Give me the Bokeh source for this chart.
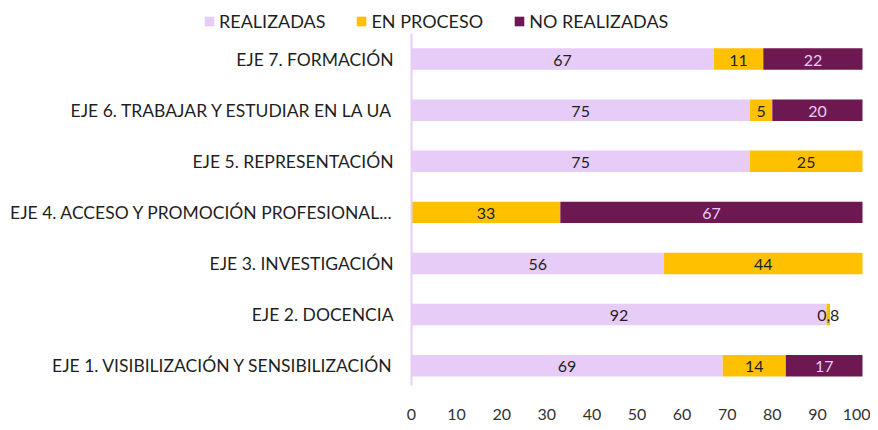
from bokeh.plotting import figure
from bokeh.models import ColumnDataSource, Legend, LegendItem, FixedTicker, Range1d
from bokeh.embed import file_html
from bokeh.resources import INLINE
from bokeh.core.properties import value

# ---- data ----
categories = [
    "EJE 1. VISIBILIZACIÓN Y SENSIBILIZACIÓN",
    "EJE 2. DOCENCIA",
    "EJE 3. INVESTIGACIÓN",
    "EJE 4. ACCESO Y PROMOCIÓN PROFESIONAL...",
    "EJE 5. REPRESENTACIÓN",
    "EJE 6. TRABAJAR Y ESTUDIAR EN LA UA",
    "EJE 7. FORMACIÓN",
]
realizadas = [69, 92, 56, 0, 75, 75, 67]
en_proceso = [14, 0.8, 44, 33, 25, 5, 11]
no_realizadas = [17, 0, 0, 67, 0, 20, 22]
series_names = ["REALIZADAS", "EN PROCESO", "NO REALIZADAS"]
x_ticks = [0, 10, 20, 30, 40, 50, 60, 70, 80, 90, 100]

# ---- style ----
colors = ["#E8CCF8", "#FFC000", "#6D1850"]
label_colors = ["#1f1f1f", "#1f1f1f", "#E8CCF8"]
FONT = "Lato"

n = len(categories)
ypos = list(range(n))

p = figure(
    x_range=Range1d(-91.13, 101.77), y_range=Range1d(-0.388, 7.146),
    width=870, height=422,
    output_backend="svg", toolbar_location=None,
    min_border_left=0, min_border_right=0,
    min_border_top=0, min_border_bottom=34,
)

series = [realizadas, en_proceso, no_realizadas]
left = [0.0] * n
renderers = []
for name, vals, col, lcol in zip(series_names, series, colors, label_colors):
    right = [l + v for l, v in zip(left, vals)]
    src = ColumnDataSource(dict(y=ypos, left=left, right=right, v=vals))
    r = p.hbar(y="y", left="left", right="right", height=0.42, source=src,
               fill_color=col, line_color=None)
    renderers.append((name, r))
    lx, ly, lt = [], [], []
    for yy, l, v in zip(ypos, left, vals):
        if v > 0:
            lx.append(l + v / 2.0)
            ly.append(yy)
            lt.append(("%g" % v).replace(".", ","))
    lsrc = ColumnDataSource(dict(x=lx, y=ly, t=lt))
    p.text(x="x", y="y", text="t", source=lsrc, text_align="center",
           text_baseline="middle", text_font=value(FONT),
           text_font_size="16px", text_color=lcol, y_offset=1)
    left = right

# category axis line and labels
p.segment(x0=[0], x1=[0], y0=[-0.69], y1=[n - 0.5],
          line_color="#E8CCF8", line_width=2)
csrc = ColumnDataSource(dict(x=[0] * n, y=ypos, t=categories))
p.text(x="x", y="y", text="t", source=csrc, text_align="right",
       text_baseline="middle", x_offset=-18, text_font=value(FONT),
       text_font_size="17.5px", text_color="#1f1f1f")

# axes
p.xaxis.ticker = FixedTicker(ticks=x_ticks)
p.xaxis.axis_line_color = None
p.xaxis.major_tick_line_color = None
p.xaxis.minor_tick_line_color = None
p.xaxis.major_label_text_font = FONT
p.xaxis.major_label_text_font_size = "16px"
p.xaxis.major_label_text_color = "#333333"
p.xaxis.major_label_standoff = 17
p.yaxis.visible = False

p.xgrid.grid_line_color = None
p.ygrid.grid_line_color = None
p.outline_line_color = None

legend = Legend(
    items=[LegendItem(label=s, renderers=[r]) for s, r in renderers],
    orientation="horizontal", location=(203, 353),
    glyph_width=12, glyph_height=12, label_standoff=4, spacing=30,
    label_text_font=FONT, label_text_font_size="18px",
    label_text_color="#1f1f1f", border_line_color=None,
    background_fill_alpha=0, padding=0, margin=0,
)
p.add_layout(legend, "center")

open("out.html", "w").write(file_html(p, INLINE))
